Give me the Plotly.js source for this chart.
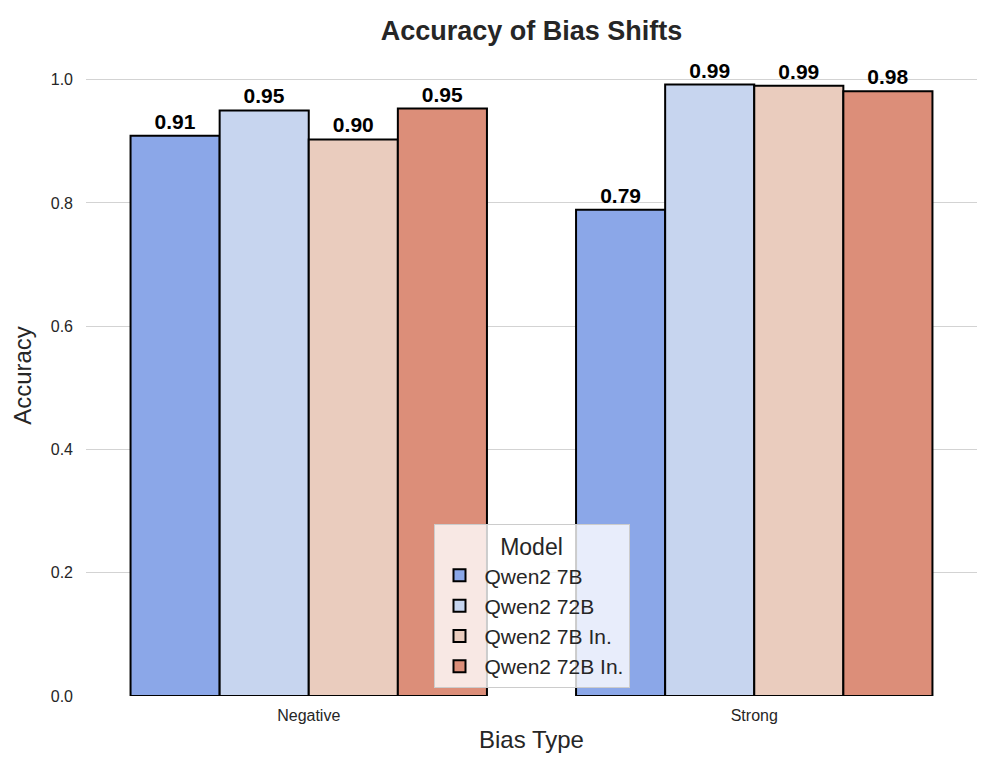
<!DOCTYPE html>
<html>
<head>
<meta charset="utf-8">
<script src="https://cdn.plot.ly/plotly-3.0.1.min.js"></script>
<style>html,body{margin:0;padding:0;background:#fff;}#chart{width:997px;height:775px;}</style>
</head>
<body>
<div id="chart"></div>
<script>
const categories = ["Negative", "Strong"];
const models = ["Qwen2 7B", "Qwen2 72B", "Qwen2 7B In.", "Qwen2 72B In."];
const qwen2_7b = [0.909, 0.789];
const qwen2_72b = [0.950, 0.992];
const qwen2_7b_in = [0.903, 0.990];
const qwen2_72b_in = [0.953, 0.981];
const colors = ["#8BA7E8", "#C7D5EF", "#EACCBE", "#DC8E79"];
const seriesValues = [qwen2_7b, qwen2_72b, qwen2_7b_in, qwen2_72b_in];
const yTicks = [0.0, 0.2, 0.4, 0.6, 0.8, 1.0];

const FONT = "Liberation Sans, Arial, Helvetica, sans-serif";

const traces = models.map((m, i) => ({
  type: "bar",
  name: m,
  x: categories,
  y: seriesValues[i],
  marker: {color: colors[i], line: {color: "#000000", width: 2}},
  text: seriesValues[i].map(v => v.toFixed(2)),
  textposition: "outside",
  textfont: {family: FONT, size: 21, color: "#000000", weight: "bold"},
  cliponaxis: false,
  hoverinfo: "skip"
}));

const layout = {
  width: 997,
  height: 775,
  paper_bgcolor: "#ffffff",
  plot_bgcolor: "#ffffff",
  margin: {l: 86, r: 20, t: 55, b: 79},
  barmode: "group",
  bargap: 0.2,
  bargroupgap: 0,
  font: {family: FONT, color: "#262626"},
  title: {
    text: "<b>Accuracy of Bias Shifts</b>",
    font: {family: FONT, size: 27, color: "#262626"},
    x: 0.5, xanchor: "center", xref: "paper",
    y: 0.96, yanchor: "middle", yref: "container"
  },
  xaxis: {
    type: "category",
    range: [-0.5, 1.5],
    showgrid: false,
    showline: false,
    zeroline: false,
    ticks: "",
    ticklabelstandoff: 8,
    tickfont: {family: FONT, size: 16, color: "#262626"},
    title: {text: "Bias Type", font: {family: FONT, size: 24, color: "#262626"}, standoff: 8}
  },
  yaxis: {
    range: [0, 1.04],
    tickvals: yTicks,
    ticktext: yTicks.map(v => v.toFixed(1)),
    showgrid: true,
    gridcolor: "#d3d3d3",
    gridwidth: 1,
    zeroline: false,
    showline: false,
    ticks: "",
    ticklabelstandoff: 12,
    tickfont: {family: FONT, size: 16, color: "#262626"},
    title: {text: "Accuracy", font: {family: FONT, size: 24, color: "#262626"}, standoff: 12}
  },
  legend: {
    x: 0.5, xanchor: "center",
    y: 0.012, yanchor: "bottom",
    bgcolor: "rgba(255,255,255,0.8)",
    bordercolor: "#cccccc",
    borderwidth: 1,
    font: {family: FONT, size: 21, color: "#262626"},
    title: {text: "Model", side: "top center", font: {family: FONT, size: 23, color: "#262626"}},
    itemwidth: 40
  },
  showlegend: true
};

Plotly.newPlot("chart", traces, layout, {displayModeBar: false, staticPlot: true});
</script>
</body>
</html>
